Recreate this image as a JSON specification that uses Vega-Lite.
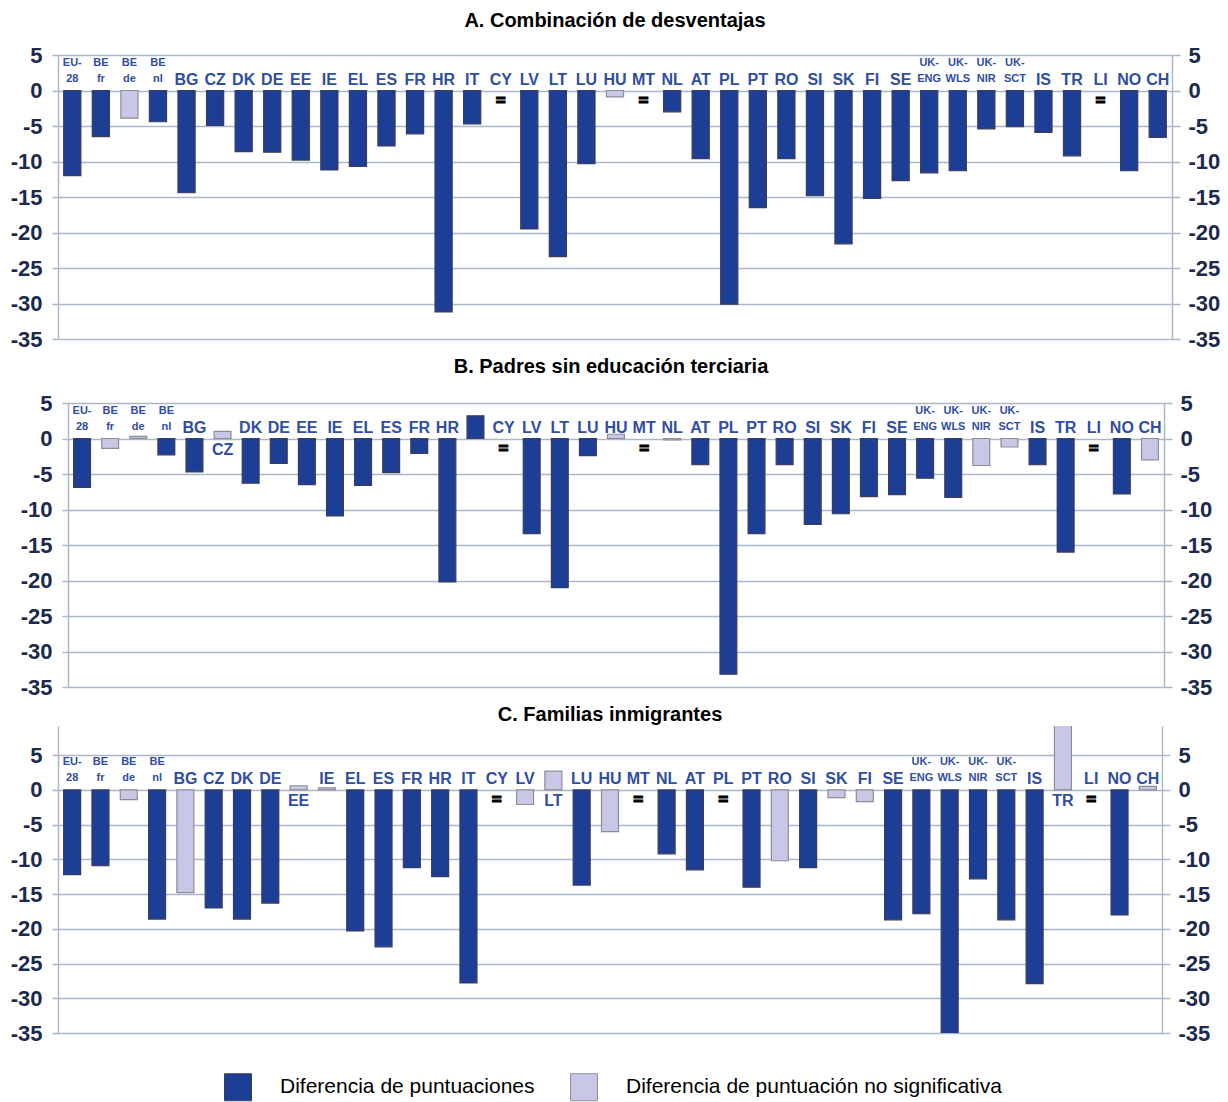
{
"$schema": "https://vega.github.io/schema/vega-lite/v6.json",
"padding": {"left": 8, "top": 11, "right": 4, "bottom": 4},
"background": "white",
"data": {"values": [
{"panel":"A","country":"EU-28","label":"EU-|28","value":-12.0,"sig":"Diferencia de puntuaciones"},
{"panel":"A","country":"BE fr","label":"BE|fr","value":-6.5,"sig":"Diferencia de puntuaciones"},
{"panel":"A","country":"BE de","label":"BE|de","value":-3.9,"sig":"Diferencia de puntuación no significativa"},
{"panel":"A","country":"BE nl","label":"BE|nl","value":-4.4,"sig":"Diferencia de puntuaciones"},
{"panel":"A","country":"BG","label":"BG","value":-14.4,"sig":"Diferencia de puntuaciones"},
{"panel":"A","country":"CZ","label":"CZ","value":-4.9,"sig":"Diferencia de puntuaciones"},
{"panel":"A","country":"DK","label":"DK","value":-8.6,"sig":"Diferencia de puntuaciones"},
{"panel":"A","country":"DE","label":"DE","value":-8.7,"sig":"Diferencia de puntuaciones"},
{"panel":"A","country":"EE","label":"EE","value":-9.8,"sig":"Diferencia de puntuaciones"},
{"panel":"A","country":"IE","label":"IE","value":-11.2,"sig":"Diferencia de puntuaciones"},
{"panel":"A","country":"EL","label":"EL","value":-10.7,"sig":"Diferencia de puntuaciones"},
{"panel":"A","country":"ES","label":"ES","value":-7.8,"sig":"Diferencia de puntuaciones"},
{"panel":"A","country":"FR","label":"FR","value":-6.1,"sig":"Diferencia de puntuaciones"},
{"panel":"A","country":"HR","label":"HR","value":-31.2,"sig":"Diferencia de puntuaciones"},
{"panel":"A","country":"IT","label":"IT","value":-4.7,"sig":"Diferencia de puntuaciones"},
{"panel":"A","country":"CY","label":"CY","value":null,"sig":null},
{"panel":"A","country":"LV","label":"LV","value":-19.5,"sig":"Diferencia de puntuaciones"},
{"panel":"A","country":"LT","label":"LT","value":-23.4,"sig":"Diferencia de puntuaciones"},
{"panel":"A","country":"LU","label":"LU","value":-10.3,"sig":"Diferencia de puntuaciones"},
{"panel":"A","country":"HU","label":"HU","value":-0.9,"sig":"Diferencia de puntuación no significativa"},
{"panel":"A","country":"MT","label":"MT","value":null,"sig":null},
{"panel":"A","country":"NL","label":"NL","value":-3.0,"sig":"Diferencia de puntuaciones"},
{"panel":"A","country":"AT","label":"AT","value":-9.6,"sig":"Diferencia de puntuaciones"},
{"panel":"A","country":"PL","label":"PL","value":-30.1,"sig":"Diferencia de puntuaciones"},
{"panel":"A","country":"PT","label":"PT","value":-16.5,"sig":"Diferencia de puntuaciones"},
{"panel":"A","country":"RO","label":"RO","value":-9.6,"sig":"Diferencia de puntuaciones"},
{"panel":"A","country":"SI","label":"SI","value":-14.8,"sig":"Diferencia de puntuaciones"},
{"panel":"A","country":"SK","label":"SK","value":-21.6,"sig":"Diferencia de puntuaciones"},
{"panel":"A","country":"FI","label":"FI","value":-15.2,"sig":"Diferencia de puntuaciones"},
{"panel":"A","country":"SE","label":"SE","value":-12.7,"sig":"Diferencia de puntuaciones"},
{"panel":"A","country":"UK-ENG","label":"UK-|ENG","value":-11.6,"sig":"Diferencia de puntuaciones"},
{"panel":"A","country":"UK-WLS","label":"UK-|WLS","value":-11.3,"sig":"Diferencia de puntuaciones"},
{"panel":"A","country":"UK-NIR","label":"UK-|NIR","value":-5.4,"sig":"Diferencia de puntuaciones"},
{"panel":"A","country":"UK-SCT","label":"UK-|SCT","value":-5.1,"sig":"Diferencia de puntuaciones"},
{"panel":"A","country":"IS","label":"IS","value":-5.9,"sig":"Diferencia de puntuaciones"},
{"panel":"A","country":"TR","label":"TR","value":-9.2,"sig":"Diferencia de puntuaciones"},
{"panel":"A","country":"LI","label":"LI","value":null,"sig":null},
{"panel":"A","country":"NO","label":"NO","value":-11.3,"sig":"Diferencia de puntuaciones"},
{"panel":"A","country":"CH","label":"CH","value":-6.6,"sig":"Diferencia de puntuaciones"},
{"panel":"B","country":"EU-28","label":"EU-|28","value":-6.9,"sig":"Diferencia de puntuaciones"},
{"panel":"B","country":"BE fr","label":"BE|fr","value":-1.4,"sig":"Diferencia de puntuación no significativa"},
{"panel":"B","country":"BE de","label":"BE|de","value":0.3,"sig":"Diferencia de puntuación no significativa"},
{"panel":"B","country":"BE nl","label":"BE|nl","value":-2.3,"sig":"Diferencia de puntuaciones"},
{"panel":"B","country":"BG","label":"BG","value":-4.7,"sig":"Diferencia de puntuaciones"},
{"panel":"B","country":"CZ","label":"CZ","value":1.0,"sig":"Diferencia de puntuación no significativa"},
{"panel":"B","country":"DK","label":"DK","value":-6.3,"sig":"Diferencia de puntuaciones"},
{"panel":"B","country":"DE","label":"DE","value":-3.5,"sig":"Diferencia de puntuaciones"},
{"panel":"B","country":"EE","label":"EE","value":-6.5,"sig":"Diferencia de puntuaciones"},
{"panel":"B","country":"IE","label":"IE","value":-10.9,"sig":"Diferencia de puntuaciones"},
{"panel":"B","country":"EL","label":"EL","value":-6.6,"sig":"Diferencia de puntuaciones"},
{"panel":"B","country":"ES","label":"ES","value":-4.8,"sig":"Diferencia de puntuaciones"},
{"panel":"B","country":"FR","label":"FR","value":-2.1,"sig":"Diferencia de puntuaciones"},
{"panel":"B","country":"HR","label":"HR","value":-20.2,"sig":"Diferencia de puntuaciones"},
{"panel":"B","country":"IT","label":"IT","value":3.2,"sig":"Diferencia de puntuaciones"},
{"panel":"B","country":"CY","label":"CY","value":null,"sig":null},
{"panel":"B","country":"LV","label":"LV","value":-13.4,"sig":"Diferencia de puntuaciones"},
{"panel":"B","country":"LT","label":"LT","value":-21.0,"sig":"Diferencia de puntuaciones"},
{"panel":"B","country":"LU","label":"LU","value":-2.4,"sig":"Diferencia de puntuaciones"},
{"panel":"B","country":"HU","label":"HU","value":0.6,"sig":"Diferencia de puntuación no significativa"},
{"panel":"B","country":"MT","label":"MT","value":null,"sig":null},
{"panel":"B","country":"NL","label":"NL","value":-0.2,"sig":"Diferencia de puntuación no significativa"},
{"panel":"B","country":"AT","label":"AT","value":-3.7,"sig":"Diferencia de puntuaciones"},
{"panel":"B","country":"PL","label":"PL","value":-33.2,"sig":"Diferencia de puntuaciones"},
{"panel":"B","country":"PT","label":"PT","value":-13.4,"sig":"Diferencia de puntuaciones"},
{"panel":"B","country":"RO","label":"RO","value":-3.7,"sig":"Diferencia de puntuaciones"},
{"panel":"B","country":"SI","label":"SI","value":-12.1,"sig":"Diferencia de puntuaciones"},
{"panel":"B","country":"SK","label":"SK","value":-10.6,"sig":"Diferencia de puntuaciones"},
{"panel":"B","country":"FI","label":"FI","value":-8.2,"sig":"Diferencia de puntuaciones"},
{"panel":"B","country":"SE","label":"SE","value":-7.9,"sig":"Diferencia de puntuaciones"},
{"panel":"B","country":"UK-ENG","label":"UK-|ENG","value":-5.6,"sig":"Diferencia de puntuaciones"},
{"panel":"B","country":"UK-WLS","label":"UK-|WLS","value":-8.3,"sig":"Diferencia de puntuaciones"},
{"panel":"B","country":"UK-NIR","label":"UK-|NIR","value":-3.8,"sig":"Diferencia de puntuación no significativa"},
{"panel":"B","country":"UK-SCT","label":"UK-|SCT","value":-1.2,"sig":"Diferencia de puntuación no significativa"},
{"panel":"B","country":"IS","label":"IS","value":-3.7,"sig":"Diferencia de puntuaciones"},
{"panel":"B","country":"TR","label":"TR","value":-16.0,"sig":"Diferencia de puntuaciones"},
{"panel":"B","country":"LI","label":"LI","value":null,"sig":null},
{"panel":"B","country":"NO","label":"NO","value":-7.8,"sig":"Diferencia de puntuaciones"},
{"panel":"B","country":"CH","label":"CH","value":-3.0,"sig":"Diferencia de puntuación no significativa"},
{"panel":"C","country":"EU-28","label":"EU-|28","value":-12.2,"sig":"Diferencia de puntuaciones"},
{"panel":"C","country":"BE fr","label":"BE|fr","value":-10.9,"sig":"Diferencia de puntuaciones"},
{"panel":"C","country":"BE de","label":"BE|de","value":-1.4,"sig":"Diferencia de puntuación no significativa"},
{"panel":"C","country":"BE nl","label":"BE|nl","value":-18.6,"sig":"Diferencia de puntuaciones"},
{"panel":"C","country":"BG","label":"BG","value":-14.8,"sig":"Diferencia de puntuación no significativa"},
{"panel":"C","country":"CZ","label":"CZ","value":-17.0,"sig":"Diferencia de puntuaciones"},
{"panel":"C","country":"DK","label":"DK","value":-18.6,"sig":"Diferencia de puntuaciones"},
{"panel":"C","country":"DE","label":"DE","value":-16.3,"sig":"Diferencia de puntuaciones"},
{"panel":"C","country":"EE","label":"EE","value":0.6,"sig":"Diferencia de puntuación no significativa"},
{"panel":"C","country":"IE","label":"IE","value":0.3,"sig":"Diferencia de puntuación no significativa"},
{"panel":"C","country":"EL","label":"EL","value":-20.3,"sig":"Diferencia de puntuaciones"},
{"panel":"C","country":"ES","label":"ES","value":-22.6,"sig":"Diferencia de puntuaciones"},
{"panel":"C","country":"FR","label":"FR","value":-11.2,"sig":"Diferencia de puntuaciones"},
{"panel":"C","country":"HR","label":"HR","value":-12.5,"sig":"Diferencia de puntuaciones"},
{"panel":"C","country":"IT","label":"IT","value":-27.8,"sig":"Diferencia de puntuaciones"},
{"panel":"C","country":"CY","label":"CY","value":null,"sig":null},
{"panel":"C","country":"LV","label":"LV","value":-2.1,"sig":"Diferencia de puntuación no significativa"},
{"panel":"C","country":"LT","label":"LT","value":2.7,"sig":"Diferencia de puntuación no significativa"},
{"panel":"C","country":"LU","label":"LU","value":-13.7,"sig":"Diferencia de puntuaciones"},
{"panel":"C","country":"HU","label":"HU","value":-6.0,"sig":"Diferencia de puntuación no significativa"},
{"panel":"C","country":"MT","label":"MT","value":null,"sig":null},
{"panel":"C","country":"NL","label":"NL","value":-9.2,"sig":"Diferencia de puntuaciones"},
{"panel":"C","country":"AT","label":"AT","value":-11.5,"sig":"Diferencia de puntuaciones"},
{"panel":"C","country":"PL","label":"PL","value":null,"sig":null},
{"panel":"C","country":"PT","label":"PT","value":-14.0,"sig":"Diferencia de puntuaciones"},
{"panel":"C","country":"RO","label":"RO","value":-10.2,"sig":"Diferencia de puntuación no significativa"},
{"panel":"C","country":"SI","label":"SI","value":-11.2,"sig":"Diferencia de puntuaciones"},
{"panel":"C","country":"SK","label":"SK","value":-1.1,"sig":"Diferencia de puntuación no significativa"},
{"panel":"C","country":"FI","label":"FI","value":-1.7,"sig":"Diferencia de puntuación no significativa"},
{"panel":"C","country":"SE","label":"SE","value":-18.7,"sig":"Diferencia de puntuaciones"},
{"panel":"C","country":"UK-ENG","label":"UK-|ENG","value":-17.8,"sig":"Diferencia de puntuaciones"},
{"panel":"C","country":"UK-WLS","label":"UK-|WLS","value":-35.5,"sig":"Diferencia de puntuaciones"},
{"panel":"C","country":"UK-NIR","label":"UK-|NIR","value":-12.8,"sig":"Diferencia de puntuaciones"},
{"panel":"C","country":"UK-SCT","label":"UK-|SCT","value":-18.7,"sig":"Diferencia de puntuaciones"},
{"panel":"C","country":"IS","label":"IS","value":-27.9,"sig":"Diferencia de puntuaciones"},
{"panel":"C","country":"TR","label":"TR","value":13.0,"sig":"Diferencia de puntuación no significativa"},
{"panel":"C","country":"LI","label":"LI","value":null,"sig":null},
{"panel":"C","country":"NO","label":"NO","value":-18.0,"sig":"Diferencia de puntuaciones"},
{"panel":"C","country":"CH","label":"CH","value":0.5,"sig":"Diferencia de puntuación no significativa"}
]},
"concat": [
{
"title": {"text": "A. Combinación de desventajas", "offset": 13},
"width": 1114, "height": 284,
"transform": [{"filter": "datum.panel === 'A'"}],
"layer": [
{"mark": {"type": "text", "font": "Liberation Sans", "fontWeight": "bold", "fontSize": 16, "color": "#2f4ea4", "baseline": "alphabetic", "dy": -6},
 "transform": [{"filter": "indexof(datum.label, '|') < 0"}],
 "encoding": {"x": {"field": "country", "type": "nominal", "scale": {"domain": ["EU-28","BE fr","BE de","BE nl","BG","CZ","DK","DE","EE","IE","EL","ES","FR","HR","IT","CY","LV","LT","LU","HU","MT","NL","AT","PL","PT","RO","SI","SK","FI","SE","UK-ENG","UK-WLS","UK-NIR","UK-SCT","IS","TR","LI","NO","CH"], "paddingInner": 0.4, "paddingOuter": 0.2}, "axis": null},
  "y": {"datum": 0, "type": "quantitative", "axis": null}, "text": {"field": "label", "type": "nominal"}}},
{"mark": {"type": "text", "font": "Liberation Sans", "fontWeight": "bold", "fontSize": 11, "color": "#2f4ea4", "baseline": "alphabetic", "lineBreak": "|", "lineHeight": 16, "dy": -25},
 "transform": [{"filter": "indexof(datum.label, '|') >= 0"}],
 "encoding": {"x": {"field": "country", "type": "nominal", "axis": null},
  "y": {"datum": 0, "type": "quantitative", "axis": null}, "text": {"field": "label", "type": "nominal"}}},
{"mark": {"type": "text", "text": "=", "font": "Liberation Sans", "fontWeight": "bold", "fontSize": 17, "color": "#000000", "stroke": "#000000", "strokeWidth": 1.2, "baseline": "middle", "dy": 10},
 "transform": [{"filter": "!isValid(datum.value)"}],
 "encoding": {"x": {"field": "country", "type": "nominal", "axis": null}, "y": {"datum": 0, "type": "quantitative", "axis": null}}},
{"mark": {"type": "bar", "clip": true, "strokeWidth": 1.2},
 "transform": [{"filter": "isValid(datum.value)"}],
 "encoding": {"x": {"field": "country", "type": "nominal", "axis": null},
  "y": {"field": "value", "type": "quantitative", "scale": {"domain": [-35, 5], "nice": false}, "axis": {"orient": "left", "values": [-35,-30,-25,-20,-15,-10,-5,0,5], "labelExpr": "'' + datum.value", "title": null, "grid": true, "gridColor": "#aab6c9", "gridWidth": 1.5, "domainColor": "#aab6c9", "domainWidth": 1.5, "tickColor": "#aab6c9", "tickWidth": 1.5, "tickSize": 6, "labelFont": "Liberation Sans", "labelFontWeight": "bold", "labelFontSize": 22, "labelColor": "#1c2a4e", "labelPadding": 10, "minExtent": 50}},
  "fill": {"field": "sig", "type": "nominal", "scale": {"domain": ["Diferencia de puntuaciones", "Diferencia de puntuación no significativa"], "range": ["#1c3e94", "#c8c8e6"]}, "legend": {"orient": "none", "legendX": 166, "legendY": 1018, "direction": "horizontal", "title": null, "symbolType": "square", "symbolSize": 729, "symbolStrokeColor": "#333333", "symbolStrokeWidth": 1, "symbolOpacity": 1, "labelFont": "Liberation Sans", "labelFontSize": 21, "labelColor": "#000000", "labelOffset": 28, "columnPadding": 33, "labelLimit": 0}},
  "stroke": {"field": "sig", "type": "nominal", "scale": {"domain": ["Diferencia de puntuaciones", "Diferencia de puntuación no significativa"], "range": ["#3a3d5c", "#8c8c99"]}, "legend": null}}},
{"mark": {"type": "rule", "opacity": 0, "clip": true},
 "transform": [{"filter": "isValid(datum.value)"}],
 "encoding": {"y": {"field": "value", "type": "quantitative", "axis": {"orient": "right", "values": [-35,-30,-25,-20,-15,-10,-5,0,5], "labelExpr": "'' + datum.value", "title": null, "grid": false, "domainColor": "#aab6c9", "domainWidth": 1.5, "tickColor": "#aab6c9", "tickWidth": 1.5, "tickSize": 8, "labelFont": "Liberation Sans", "labelFontWeight": "bold", "labelFontSize": 22, "labelColor": "#1c2a4e", "labelPadding": 8}}}}
],
"resolve": {"axis": {"y": "independent"}}
},
{
"title": {"text": "B. Padres sin educación terciaria", "offset": 15},
"width": 1106, "height": 284,
"transform": [{"filter": "datum.panel === 'B'"}],
"layer": [
{"mark": {"type": "text", "font": "Liberation Sans", "fontWeight": "bold", "fontSize": 16, "color": "#2f4ea4", "baseline": "alphabetic", "dy": -6},
 "transform": [{"filter": "indexof(datum.label, '|') < 0 && datum.country !== 'CZ'"}],
 "encoding": {"x": {"field": "country", "type": "nominal", "scale": {"domain": ["EU-28","BE fr","BE de","BE nl","BG","CZ","DK","DE","EE","IE","EL","ES","FR","HR","IT","CY","LV","LT","LU","HU","MT","NL","AT","PL","PT","RO","SI","SK","FI","SE","UK-ENG","UK-WLS","UK-NIR","UK-SCT","IS","TR","LI","NO","CH"], "range": [10, 1106], "paddingInner": 0.4, "paddingOuter": 0.2}, "axis": null},
  "y": {"datum": 0, "type": "quantitative", "axis": null}, "text": {"field": "label", "type": "nominal"}}},
{"mark": {"type": "text", "font": "Liberation Sans", "fontWeight": "bold", "fontSize": 16, "color": "#2f4ea4", "baseline": "top", "dy": 3},
 "transform": [{"filter": "datum.country === 'CZ'"}],
 "encoding": {"x": {"field": "country", "type": "nominal", "axis": null},
  "y": {"datum": 0, "type": "quantitative", "axis": null}, "text": {"field": "label", "type": "nominal"}}},
{"mark": {"type": "text", "font": "Liberation Sans", "fontWeight": "bold", "fontSize": 11, "color": "#2f4ea4", "baseline": "alphabetic", "lineBreak": "|", "lineHeight": 16, "dy": -25},
 "transform": [{"filter": "indexof(datum.label, '|') >= 0"}],
 "encoding": {"x": {"field": "country", "type": "nominal", "axis": null},
  "y": {"datum": 0, "type": "quantitative", "axis": null}, "text": {"field": "label", "type": "nominal"}}},
{"mark": {"type": "text", "text": "=", "font": "Liberation Sans", "fontWeight": "bold", "fontSize": 17, "color": "#000000", "stroke": "#000000", "strokeWidth": 1.2, "baseline": "middle", "dy": 10},
 "transform": [{"filter": "!isValid(datum.value)"}],
 "encoding": {"x": {"field": "country", "type": "nominal", "axis": null}, "y": {"datum": 0, "type": "quantitative", "axis": null}}},
{"mark": {"type": "bar", "clip": true, "strokeWidth": 1.2},
 "transform": [{"filter": "isValid(datum.value)"}],
 "encoding": {"x": {"field": "country", "type": "nominal", "axis": null},
  "y": {"field": "value", "type": "quantitative", "scale": {"domain": [-35, 5], "nice": false}, "axis": {"orient": "left", "offset": -10, "values": [-35,-30,-25,-20,-15,-10,-5,0,5], "labelExpr": "'' + datum.value", "title": null, "grid": true, "gridColor": "#aab6c9", "gridWidth": 1.5, "domainColor": "#aab6c9", "domainWidth": 1.5, "tickColor": "#aab6c9", "tickWidth": 1.5, "tickSize": 6, "labelFont": "Liberation Sans", "labelFontWeight": "bold", "labelFontSize": 22, "labelColor": "#1c2a4e", "labelPadding": 10, "minExtent": 50}},
  "fill": {"field": "sig", "type": "nominal", "legend": {"orient": "none", "legendX": 166, "legendY": 1018, "direction": "horizontal", "title": null, "symbolType": "square", "symbolSize": 729, "symbolStrokeColor": "#333333", "symbolStrokeWidth": 1, "symbolOpacity": 1, "labelFont": "Liberation Sans", "labelFontSize": 21, "labelColor": "#000000", "labelOffset": 28, "columnPadding": 33, "labelLimit": 0}},
  "stroke": {"field": "sig", "type": "nominal", "legend": null}}},
{"mark": {"type": "rule", "opacity": 0, "clip": true},
 "transform": [{"filter": "isValid(datum.value)"}],
 "encoding": {"y": {"field": "value", "type": "quantitative", "axis": {"orient": "right", "values": [-35,-30,-25,-20,-15,-10,-5,0,5], "labelExpr": "'' + datum.value", "title": null, "grid": false, "domainColor": "#aab6c9", "domainWidth": 1.5, "tickColor": "#aab6c9", "tickWidth": 1.5, "tickSize": 8, "labelFont": "Liberation Sans", "labelFontWeight": "bold", "labelFontSize": 22, "labelColor": "#1c2a4e", "labelPadding": 8}}}}
],
"resolve": {"axis": {"y": "independent"}}
},
{
"title": {"text": "C. Familias inmigrantes", "offset": 1},
"width": 1104, "height": 307,
"transform": [{"filter": "datum.panel === 'C'"}],
"layer": [
{"mark": {"type": "text", "font": "Liberation Sans", "fontWeight": "bold", "fontSize": 16, "color": "#2f4ea4", "baseline": "alphabetic", "dy": -6},
 "transform": [{"filter": "indexof(datum.label, '|') < 0 && indexof(['EE','LT','TR'], datum.country) < 0"}],
 "encoding": {"x": {"field": "country", "type": "nominal", "scale": {"domain": ["EU-28","BE fr","BE de","BE nl","BG","CZ","DK","DE","EE","IE","EL","ES","FR","HR","IT","CY","LV","LT","LU","HU","MT","NL","AT","PL","PT","RO","SI","SK","FI","SE","UK-ENG","UK-WLS","UK-NIR","UK-SCT","IS","TR","LI","NO","CH"], "paddingInner": 0.4, "paddingOuter": 0.2}, "axis": null},
  "y": {"datum": 0, "type": "quantitative", "axis": null}, "text": {"field": "label", "type": "nominal"}}},
{"mark": {"type": "text", "font": "Liberation Sans", "fontWeight": "bold", "fontSize": 16, "color": "#2f4ea4", "baseline": "top", "dy": 3},
 "transform": [{"filter": "indexof(['EE','LT','TR'], datum.country) >= 0"}],
 "encoding": {"x": {"field": "country", "type": "nominal", "axis": null},
  "y": {"datum": 0, "type": "quantitative", "axis": null}, "text": {"field": "label", "type": "nominal"}}},
{"mark": {"type": "text", "font": "Liberation Sans", "fontWeight": "bold", "fontSize": 11, "color": "#2f4ea4", "baseline": "alphabetic", "lineBreak": "|", "lineHeight": 16, "dy": -25},
 "transform": [{"filter": "indexof(datum.label, '|') >= 0"}],
 "encoding": {"x": {"field": "country", "type": "nominal", "axis": null},
  "y": {"datum": 0, "type": "quantitative", "axis": null}, "text": {"field": "label", "type": "nominal"}}},
{"mark": {"type": "text", "text": "=", "font": "Liberation Sans", "fontWeight": "bold", "fontSize": 17, "color": "#000000", "stroke": "#000000", "strokeWidth": 1.2, "baseline": "middle", "dy": 10},
 "transform": [{"filter": "!isValid(datum.value)"}],
 "encoding": {"x": {"field": "country", "type": "nominal", "axis": null}, "y": {"datum": 0, "type": "quantitative", "axis": null}}},
{"mark": {"type": "bar", "clip": true, "strokeWidth": 1.2},
 "transform": [{"filter": "isValid(datum.value)"}],
 "encoding": {"x": {"field": "country", "type": "nominal", "axis": null},
  "y": {"field": "value", "type": "quantitative", "scale": {"domain": [-35, 9.2], "nice": false}, "axis": {"orient": "left", "values": [-35,-30,-25,-20,-15,-10,-5,0,5], "labelExpr": "'' + datum.value", "title": null, "grid": true, "gridColor": "#aab6c9", "gridWidth": 1.5, "domainColor": "#aab6c9", "domainWidth": 1.5, "tickColor": "#aab6c9", "tickWidth": 1.5, "tickSize": 6, "labelFont": "Liberation Sans", "labelFontWeight": "bold", "labelFontSize": 22, "labelColor": "#1c2a4e", "labelPadding": 10, "minExtent": 50}},
  "fill": {"field": "sig", "type": "nominal", "legend": {"orient": "none", "legendX": 166, "legendY": 1018, "direction": "horizontal", "title": null, "symbolType": "square", "symbolSize": 729, "symbolStrokeColor": "#333333", "symbolStrokeWidth": 1, "symbolOpacity": 1, "labelFont": "Liberation Sans", "labelFontSize": 21, "labelColor": "#000000", "labelOffset": 28, "columnPadding": 33, "labelLimit": 0}},
  "stroke": {"field": "sig", "type": "nominal", "legend": null}}},
{"mark": {"type": "rule", "opacity": 0, "clip": true},
 "transform": [{"filter": "isValid(datum.value)"}],
 "encoding": {"y": {"field": "value", "type": "quantitative", "axis": {"orient": "right", "values": [-35,-30,-25,-20,-15,-10,-5,0,5], "labelExpr": "'' + datum.value", "title": null, "grid": false, "domainColor": "#aab6c9", "domainWidth": 1.5, "tickColor": "#aab6c9", "tickWidth": 1.5, "tickSize": 8, "labelFont": "Liberation Sans", "labelFontWeight": "bold", "labelFontSize": 22, "labelColor": "#1c2a4e", "labelPadding": 8}}}}
],
"resolve": {"axis": {"y": "independent"}}
}
],
"columns": 1,
"align": "none",
"spacing": 7,
"config": {
 "view": {"stroke": null},
 "title": {"font": "Liberation Sans", "fontSize": 20, "fontWeight": "bold", "color": "#000000", "anchor": "middle"}
}
}
